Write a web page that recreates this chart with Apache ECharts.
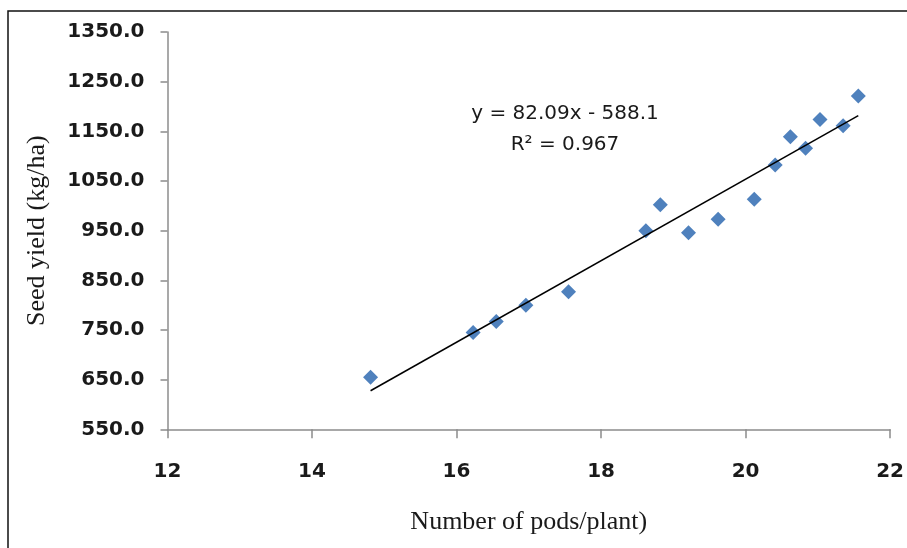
<!DOCTYPE html>
<html>
<head>
<meta charset="utf-8">
<script src="https://cdn.jsdelivr.net/npm/echarts@6/dist/echarts.min.js"></script>
<style>
  html, body { margin: 0; padding: 0; background: #fff; }
  #chart { width: 907px; height: 548px; }
</style>
</head>
<body>
<div id="chart"></div>
<script>
// Number of pods per plant vs. seed yield
const podsPerPlant = [14.81, 16.23, 16.55, 16.96, 17.55, 18.62, 18.82, 19.21, 19.62, 20.12, 20.41, 20.62, 20.83, 21.03, 21.35, 21.56];
const seedYield    = [655, 745, 767, 800, 827, 950, 1002, 946, 973, 1013, 1082, 1139, 1116, 1174, 1161, 1221];

// Linear trend: y = slope * x + intercept
const trendCoef = [82.09, -588.1];
const rSquared = [0.967];

const xTicks = [12, 22, 2];     // min, max, step
const yTicks = [550, 1350, 100];

const points = podsPerPlant.map((x, i) => [x, seedYield[i]]);
const xLo = Math.min(...podsPerPlant);
const xHi = Math.max(...podsPerPlant);
const trendLine = [xLo, xHi].map(x => [x, trendCoef[0] * x + trendCoef[1]]);

const axisGrey = '#8c8c8c';
const tickFont = { fontFamily: 'DejaVu Sans', fontWeight: 'bold', fontSize: 20, color: '#1a1a1a' };
const titleFont = { fontFamily: 'Liberation Serif', fontSize: 26, color: '#1a1a1a' };

const chart = echarts.init(document.getElementById('chart'), null, { renderer: 'canvas' });
chart.setOption({
  animation: false,
  backgroundColor: '#fff',
  grid: { left: 167.5, right: 16, top: 32, bottom: 118.7 },
  xAxis: {
    type: 'value',
    min: xTicks[0], max: xTicks[1], interval: xTicks[2],
    name: 'Number of pods/plant)',
    nameLocation: 'middle',
    nameGap: 80,
    nameTextStyle: titleFont,
    axisLine: { show: true, lineStyle: { color: axisGrey, width: 1.5 } },
    axisTick: { show: true, inside: false, length: 9, lineStyle: { color: axisGrey, width: 1.5 } },
    axisLabel: Object.assign({ margin: 32, formatter: v => String(v) }, tickFont),
    splitLine: { show: false }
  },
  yAxis: {
    type: 'value',
    min: yTicks[0], max: yTicks[1], interval: yTicks[2],
    name: 'Seed yield (kg/ha)',
    nameLocation: 'middle',
    nameRotate: 90,
    nameGap: 117,
    nameTextStyle: titleFont,
    axisLine: { show: true, lineStyle: { color: axisGrey, width: 1.5 } },
    axisTick: { show: true, inside: false, length: 7, lineStyle: { color: axisGrey, width: 1.5 } },
    axisLabel: Object.assign({ margin: 23, formatter: v => v.toFixed(1) }, tickFont),
    splitLine: { show: false }
  },
  series: [
    {
      type: 'scatter',
      data: points,
      symbol: 'diamond',
      symbolSize: 15,
      itemStyle: { color: '#4f81bd', opacity: 1 },
      z: 3
    },
    {
      type: 'line',
      data: trendLine,
      symbol: 'none',
      lineStyle: { color: '#000', width: 1.5 },
      z: 4
    }
  ],
  graphic: [
    {
      type: 'rect',
      shape: { x: 8, y: 11, width: 1000, height: 1000 },
      style: { fill: 'none', stroke: '#111', lineWidth: 1.5 },
      silent: true,
      z: -1
    },
    {
      type: 'text',
      x: 565, y: 114,
      style: {
        text: 'y = ' + trendCoef[0].toFixed(2) + 'x - ' + Math.abs(trendCoef[1]).toFixed(1),
        fontFamily: 'DejaVu Sans', fontSize: 20, fill: '#1a1a1a',
        align: 'center', verticalAlign: 'middle'
      }
    },
    {
      type: 'text',
      x: 565, y: 145,
      style: {
        text: 'R\u00B2 = ' + rSquared[0].toFixed(3),
        fontFamily: 'DejaVu Sans', fontSize: 20, fill: '#1a1a1a',
        align: 'center', verticalAlign: 'middle'
      }
    }
  ]
});
</script>
</body>
</html>
